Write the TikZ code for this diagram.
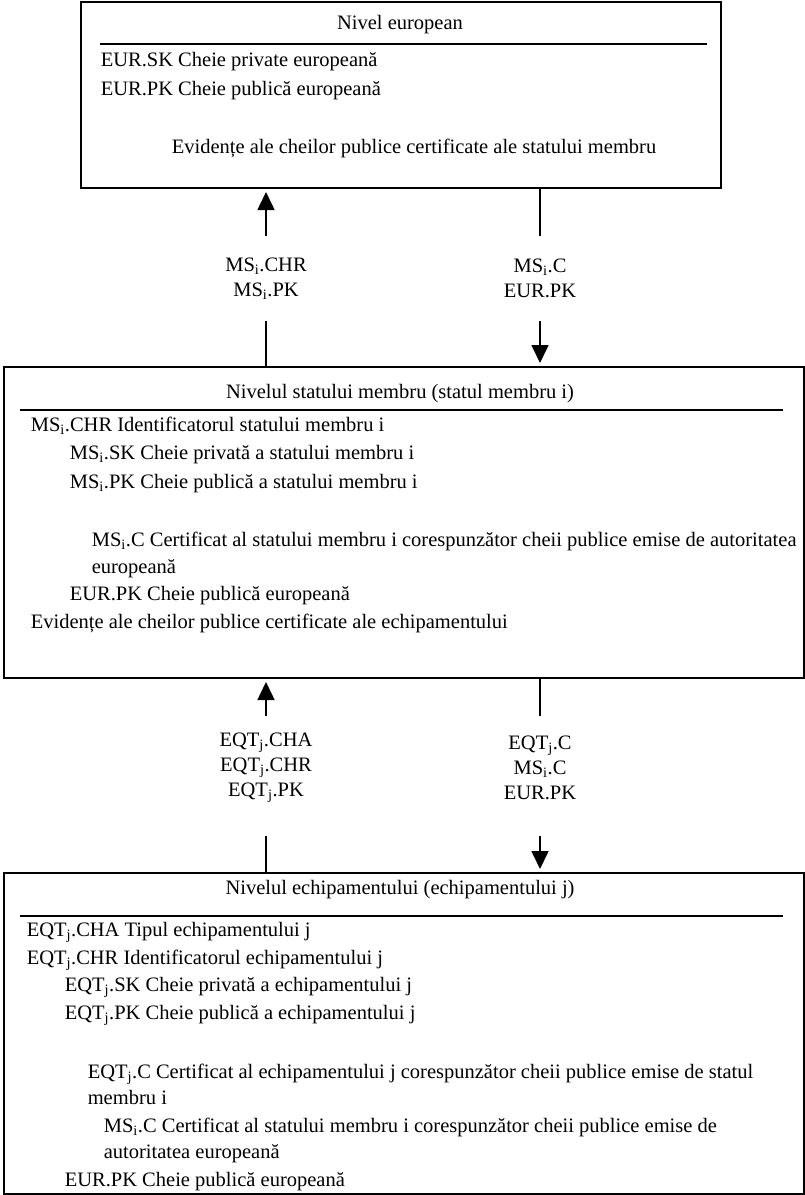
\documentclass[tikz,border=0pt]{standalone}
\usepackage{fontspec}
\setmainfont{Liberation Serif}
\usetikzlibrary{arrows.meta, positioning}
\newcommand{\MSi}{MS\textsubscript{i}}
\newcommand{\EQTj}{EQT\textsubscript{j}}
\tikzset{
  every picture/.style={line width=1.6pt, font=\fontsize{20.5}{28}\selectfont},
  level/.style={draw, line width=2pt, anchor=north west, inner sep=0pt},
  rule/.style={line width=1.8pt},
  item/.style={anchor=base west, inner sep=0pt},
  head/.style={anchor=base, inner sep=0pt},
  flow/.style={-{Triangle[width=17pt, length=18pt]}, line width=1.6pt, shorten >=3pt},
}

\begin{document}
\begin{tikzpicture}[x=1pt, y=-1pt,
    tag/.style={align=center, inner xsep=0pt, font=\fontsize{20.5}{25}\selectfont}]
  \useasboundingbox (0,0) rectangle (804,1195);
  % the three levels
  \node[level, minimum width=640pt, minimum height=186pt] (eu) at (80,1) {};
  \node[level, minimum width=800pt, minimum height=311pt] (ms) at (3,366) {};
  \node[level, minimum width=800pt, minimum height=321pt] (eq) at (3,872) {};

  % headings and the rules under them
  \node[head] (euT) at (400,29) {Nivel european};
  \node[head] (msT) at (400,398) {Nivelul statului membru (statul membru i)};
  \node[head] (eqT) at (400,894) {Nivelul echipamentului (echipamentului j)};
  \draw[rule] (100,44) -- (707,44);
  \draw[rule] (20,410) -- (783,410);
  \draw[rule] (20,916) -- (783,916);

  % contents: name, x, baseline, text
  \foreach \n/\x/\y/\t in {
      1/100/66/{EUR.SK Cheie private europeană},
      2/100/95/{EUR.PK Cheie publică europeană},
      3/171/153/{Evidențe ale cheilor publice certificate ale statului membru}}
    \node[item] (eu\n) at (\x,\y) {\t};
  \foreach \n/\x/\y/\t in {
      1/30/431/{\MSi.CHR Identificatorul statului membru i},
      2/69/459/{\MSi.SK Cheie privată a statului membru i},
      3/69/488/{\MSi.PK Cheie publică a statului membru i},
      4/91/546/{\MSi.C Certificat al statului membru i corespunzător cheii publice emise de autoritatea},
      5/91/573/{europeană},
      6/69/600/{EUR.PK Cheie publică europeană},
      7/30/628/{Evidențe ale cheilor publice certificate ale echipamentului}}
    \node[item] (ms\n) at (\x,\y) {\t};
  \foreach \n/\x/\y/\t in {
      1/26/936/{\EQTj.CHA Tipul echipamentului j},
      2/26/964/{\EQTj.CHR Identificatorul echipamentului j},
      3/64/991/{\EQTj.SK Cheie privată a echipamentului j},
      4/64/1019/{\EQTj.PK Cheie publică a echipamentului j},
      5/87/1078/{\EQTj.C Certificat al echipamentului j corespunzător cheii publice emise de statul},
      6/87/1104/{membru i},
      7/103/1132/{\MSi.C Certificat al statului membru i corespunzător cheii publice emise de},
      8/103/1158/{autoritatea europeană},
      9/64/1186/{EUR.PK Cheie publică europeană}}
    \node[item] (eq\n) at (\x,\y) {\t};

  % exchanged keys and certificates
  \node[tag, minimum height=83pt] (up1) at (266,278.5) {\MSi.CHR\\\MSi.PK};
  \node[tag, minimum height=83pt] (dn1) at (540,278.5) {\MSi.C\\EUR.PK};
  \node[tag, minimum height=101pt] (up2) at (266,767.5) {\EQTj.CHA\\\EQTj.CHR\\\EQTj.PK};
  \node[tag, minimum height=101pt] (dn2) at (540,767.5) {\EQTj.C\\\MSi.C\\EUR.PK};

  \draw (ms.north -| up1) -- (up1.south);
  \draw[flow] (up1.north) -- (eu.south -| up1);
  \draw (eu.south -| dn1) -- (dn1.north);
  \draw[flow] (dn1.south) -- (ms.north -| dn1);
  \draw (eq.north -| up2) -- ([yshift=-17pt]up2.south);
  \draw[flow] (up2.north) -- (ms.south -| up2);
  \draw (ms.south -| dn2) -- (dn2.north);
  \draw[flow] ([yshift=-17pt]dn2.south) -- (eq.north -| dn2);
\end{tikzpicture}
\end{document}
